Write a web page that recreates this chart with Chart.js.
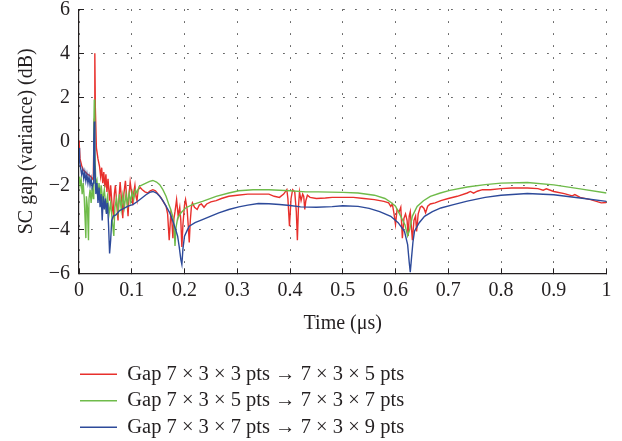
<!DOCTYPE html>
<html>
<head>
<meta charset="utf-8">
<script src="https://cdn.jsdelivr.net/npm/chart.js@4.4.0/dist/chart.umd.min.js"></script>
<style>
  body { margin: 0; background: #fff; }
  #container { width: 622px; height: 441px; }
</style>
</head>
<body>
<div id="container"><canvas id="myChart" width="622" height="441"></canvas></div>
<script>
// time axis (us) and SC gap values (dB)
var redTime = [0, 0.002, 0.005, 0.008, 0.012, 0.016, 0.02, 0.024, 0.027, 0.029, 0.030, 0.031, 0.033, 0.036, 0.039, 0.041, 0.043, 0.045, 0.047, 0.049, 0.051, 0.053, 0.055, 0.058, 0.060, 0.063, 0.065, 0.067, 0.069, 0.072, 0.074, 0.076, 0.078, 0.081, 0.083, 0.085, 0.088, 0.091, 0.093, 0.095, 0.097, 0.100, 0.102, 0.104, 0.106, 0.108, 0.110, 0.112, 0.116, 0.120, 0.125, 0.130, 0.135, 0.140, 0.145, 0.150, 0.155, 0.160, 0.165, 0.168, 0.171, 0.174, 0.176, 0.178, 0.180, 0.182, 0.185, 0.188, 0.191, 0.193, 0.195, 0.197, 0.200, 0.202, 0.205, 0.207, 0.209, 0.211, 0.213, 0.215, 0.219, 0.224, 0.228, 0.232, 0.237, 0.242, 0.250, 0.26, 0.27, 0.284, 0.30, 0.32, 0.34, 0.36, 0.37, 0.38, 0.388, 0.394, 0.396, 0.399, 0.402, 0.405, 0.409, 0.412, 0.414, 0.416, 0.418, 0.421, 0.424, 0.426, 0.428, 0.430, 0.433, 0.438, 0.45, 0.467, 0.48, 0.5, 0.52, 0.54, 0.56, 0.578, 0.587, 0.591, 0.594, 0.597, 0.600, 0.603, 0.607, 0.610, 0.613, 0.616, 0.619, 0.622, 0.624, 0.626, 0.628, 0.632, 0.635, 0.638, 0.640, 0.643, 0.647, 0.650, 0.654, 0.657, 0.661, 0.666, 0.675, 0.686, 0.7, 0.717, 0.736, 0.742, 0.748, 0.755, 0.765, 0.78, 0.8, 0.82, 0.85, 0.87, 0.88, 0.886, 0.9, 0.92, 0.935, 0.94, 0.95, 0.97, 0.99, 1.0];
var redGap = [0.05, -0.8, -1.1, -1.3, -1.4, -1.5, -1.55, -1.65, -1.75, 1.0, 4.0, 1.5, -0.3, -0.8, -1.15, -1.6, -1.2, -1.9, -1.4, -2.1, -1.5, -2.3, -1.7, -2.7, -2.0, -3.0, -3.3, -2.4, -2.0, -3.0, -3.6, -2.5, -1.85, -2.8, -3.5, -2.4, -1.8, -2.7, -3.4, -2.4, -1.85, -2.4, -2.9, -2.3, -2.0, -2.5, -2.7, -2.2, -2.1, -2.2, -2.3, -2.35, -2.25, -2.2, -2.25, -2.4, -2.55, -2.75, -2.95, -3.3, -4.5, -3.3, -3.6, -4.4, -3.5, -3.2, -2.65, -3.4, -3.0, -3.6, -4.8, -3.8, -2.9, -2.65, -3.1, -3.8, -4.6, -3.6, -3.0, -2.8, -3.0, -3.1, -2.9, -2.85, -3.0, -2.85, -2.75, -2.7, -2.6, -2.5, -2.45, -2.4, -2.4, -2.4, -2.5, -2.55, -2.4, -2.2, -2.6, -3.86, -2.6, -2.2, -2.3, -3.2, -4.5, -3.0, -2.3, -2.7, -2.4, -2.5, -3.1, -2.7, -2.45, -2.55, -2.6, -2.58, -2.55, -2.55, -2.55, -2.6, -2.65, -2.73, -2.8, -2.96, -2.85, -3.26, -3.78, -3.1, -3.2, -3.0, -4.4, -3.5, -3.3, -3.6, -4.3, -3.4, -3.2, -4.5, -3.6, -3.4, -4.1, -3.3, -3.0, -2.95, -3.05, -3.25, -2.95, -2.85, -2.8, -2.7, -2.6, -2.5, -2.35, -2.28, -2.36, -2.27, -2.2, -2.2, -2.15, -2.12, -2.12, -2.15, -2.22, -2.16, -2.28, -2.38, -2.48, -2.42, -2.55, -2.65, -2.8, -2.78];

var greenTime = [0, 0.002, 0.004, 0.006, 0.008, 0.010, 0.012, 0.013, 0.014, 0.016, 0.018, 0.019, 0.021, 0.023, 0.025, 0.027, 0.028, 0.029, 0.030, 0.032, 0.034, 0.036, 0.038, 0.040, 0.042, 0.045, 0.048, 0.051, 0.054, 0.057, 0.060, 0.063, 0.066, 0.068, 0.071, 0.074, 0.077, 0.080, 0.083, 0.086, 0.089, 0.092, 0.095, 0.098, 0.101, 0.104, 0.107, 0.110, 0.114, 0.12, 0.127, 0.134, 0.14, 0.147, 0.153, 0.159, 0.165, 0.170, 0.174, 0.178, 0.180, 0.182, 0.184, 0.187, 0.193, 0.202, 0.215, 0.234, 0.26, 0.284, 0.303, 0.33, 0.36, 0.40, 0.43, 0.454, 0.5, 0.529, 0.56, 0.58, 0.591, 0.60, 0.61, 0.618, 0.623, 0.627, 0.632, 0.641, 0.653, 0.666, 0.685, 0.703, 0.736, 0.77, 0.8, 0.85, 0.9, 0.95, 1.0];
var greenGap = [-1.6, -2.0, -1.7, -2.4, -1.9, -2.6, -3.8, -4.4, -2.5, -3.0, -4.5, -2.6, -2.2, -2.8, -2.1, -2.6, 0.5, 1.9, -0.5, -2.0, -1.8, -2.5, -1.9, -2.6, -2.0, -2.7, -2.2, -3.0, -2.5, -3.3, -2.8, -3.6, -4.3, -3.0, -2.6, -3.2, -2.4, -3.1, -2.45, -3.0, -2.4, -2.9, -2.35, -2.75, -2.3, -2.6, -2.2, -2.35, -2.05, -1.98, -1.9, -1.82, -1.78, -1.85, -1.97, -2.2, -2.5, -2.85, -3.1, -3.45, -3.8, -4.76, -3.9, -3.5, -3.26, -3.03, -2.88, -2.73, -2.5, -2.35, -2.25, -2.2, -2.2, -2.25, -2.3, -2.3, -2.32, -2.35, -2.45, -2.6, -2.77, -2.95, -3.41, -3.8, -4.3, -4.0, -3.4, -2.96, -2.7, -2.5, -2.35, -2.23, -2.08, -1.97, -1.9, -1.87, -1.98, -2.16, -2.35];

var blueTime = [0, 0.001, 0.003, 0.005, 0.007, 0.009, 0.011, 0.013, 0.015, 0.017, 0.019, 0.021, 0.023, 0.025, 0.027, 0.028, 0.029, 0.030, 0.032, 0.034, 0.036, 0.038, 0.040, 0.042, 0.044, 0.046, 0.048, 0.050, 0.052, 0.054, 0.056, 0.058, 0.060, 0.062, 0.065, 0.07, 0.077, 0.085, 0.093, 0.102, 0.11, 0.118, 0.127, 0.134, 0.14, 0.147, 0.153, 0.159, 0.165, 0.172, 0.178, 0.183, 0.187, 0.190, 0.193, 0.195, 0.197, 0.200, 0.205, 0.209, 0.22, 0.234, 0.25, 0.265, 0.284, 0.303, 0.32, 0.34, 0.36, 0.38, 0.40, 0.42, 0.45, 0.48, 0.50, 0.529, 0.55, 0.57, 0.591, 0.605, 0.617, 0.623, 0.626, 0.628, 0.630, 0.633, 0.636, 0.645, 0.655, 0.67, 0.686, 0.71, 0.736, 0.77, 0.8, 0.85, 0.9, 0.95, 1.0];
var blueGap = [-0.3, -0.9, -1.2, -1.5, -1.3, -1.7, -1.4, -1.8, -1.5, -1.9, -1.6, -2.0, -1.7, -2.1, -1.9, 0.0, 0.9, -1.0, -2.4, -1.9, -2.8, -2.1, -3.0, -2.4, -3.6, -2.5, -3.1, -2.6, -3.3, -2.8, -3.8, -5.1, -4.5, -3.6, -3.4, -3.35, -3.15, -3.05, -2.95, -2.88, -2.75, -2.6, -2.43, -2.32, -2.28, -2.35, -2.5, -2.7, -2.95, -3.25, -3.63, -4.0, -4.31, -4.8, -5.37, -5.6, -4.9, -4.31, -4.05, -3.86, -3.7, -3.56, -3.4, -3.25, -3.1, -2.98, -2.9, -2.83, -2.84, -2.87, -2.92, -2.98, -3.0, -2.97, -2.93, -2.96, -3.05, -3.2, -3.41, -3.7, -4.09, -4.7, -5.5, -5.95, -5.4, -4.6, -4.09, -3.7, -3.41, -3.2, -3.03, -2.88, -2.72, -2.55, -2.45, -2.37, -2.43, -2.58, -2.73];

var seriesNames = [
  "Gap 7 \u00d7 3 \u00d7 3 pts \u2192 7 \u00d7 3 \u00d7 5 pts",
  "Gap 7 \u00d7 3 \u00d7 5 pts \u2192 7 \u00d7 3 \u00d7 7 pts",
  "Gap 7 \u00d7 3 \u00d7 7 pts \u2192 7 \u00d7 3 \u00d7 9 pts"
];
var timeTicks = [0, 0.1, 0.2, 0.3, 0.4, 0.5, 0.6, 0.7, 0.8, 0.9, 1];
var gapTicks = [-6, -4, -2, 0, 2, 4, 6];

function toPoints(xs, ys) {
  return xs.map(function (x, i) { return { x: x, y: ys[i] }; });
}

var textColor = "#231f20";
var serif = "'Liberation Serif', 'DejaVu Serif', serif";

// put the legend where the figure has it
var legendShift = {
  id: "legendShift",
  afterLayout: function (chart) {
    var lg = chart.legend;
    var h = lg.bottom - lg.top;
    lg.left = 74;
    lg.top = 358;
    lg.bottom = lg.top + h;
  }
};

var ctx = document.getElementById("myChart").getContext("2d");
var myChart = new Chart(ctx, {
  type: "line",
  data: {
    datasets: [
      { label: seriesNames[0], data: toPoints(redTime, redGap), borderColor: "#e8302c", backgroundColor: "#e8302c", order: 2 },
      { label: seriesNames[1], data: toPoints(greenTime, greenGap), borderColor: "#6fbb4a", backgroundColor: "#6fbb4a", order: 1 },
      { label: seriesNames[2], data: toPoints(blueTime, blueGap), borderColor: "#2d4a9a", backgroundColor: "#2d4a9a", order: 0 }
    ]
  },
  options: {
    responsive: false,
    animation: false,
    layout: { padding: { top: 9.3, right: 12.5, bottom: 0, left: 0 } },
    elements: {
      point: { radius: 0 },
      line: { borderWidth: 1.4, tension: 0, fill: false }
    },
    plugins: {
      tooltip: { enabled: false },
      legend: {
        position: "bottom",
        align: "start",
        labels: {
          color: textColor,
          font: { family: serif, size: 20.5 },
          boxWidth: 37,
          boxHeight: 0,
          padding: 6,
          sort: function (a, b) { return a.datasetIndex - b.datasetIndex; }
        }
      }
    },
    scales: {
      x: {
        type: "linear",
        min: 0,
        max: 1,
        afterBuildTicks: function (axis) {
          axis.ticks = timeTicks.map(function (v) { return { value: v }; });
        },
        afterFit: function (axis) { axis.height = 78.2; },
        ticks: {
          color: textColor,
          font: { family: serif, size: 20 },
          padding: 10.5,
          maxRotation: 0,
          callback: function (v) { return (v === 0 || v === 1) ? String(v) : v.toFixed(1); }
        },
        grid: {
          color: "#444",
          lineWidth: 1,
          drawTicks: true,
          tickLength: -5,
          tickColor: textColor,
          tickWidth: 1,
          tickBorderDash: []
        },
        border: { display: true, color: textColor, width: 1.2, dash: [1.5, 10.5] },
        title: {
          display: true,
          text: "Time (\u03bcs)",
          color: textColor,
          font: { family: serif, size: 20 },
          padding: { top: 0, bottom: 16 }
        }
      },
      y: {
        min: -6,
        max: 6,
        afterBuildTicks: function (axis) {
          axis.ticks = gapTicks.map(function (v) { return { value: v }; });
        },
        afterFit: function (axis) {
          axis.width = 79;
          axis.paddingTop = 0;
          axis.paddingBottom = 0;
        },
        ticks: {
          color: textColor,
          font: { family: serif, size: 20 },
          padding: 14,
          callback: function (v) { return String(v).replace("-", "\u2212"); }
        },
        grid: {
          color: "#444",
          lineWidth: 1,
          drawTicks: true,
          tickLength: -5,
          tickColor: textColor,
          tickWidth: 1,
          tickBorderDash: []
        },
        border: { display: true, color: textColor, width: 1.2, dash: [1.5, 10.5] },
        title: {
          display: true,
          text: "SC gap (variance) (dB)",
          color: textColor,
          font: { family: serif, size: 20 },
          padding: { top: 14.7, bottom: 0 }
        }
      }
    }
  },
  plugins: [legendShift]
});
</script>
</body>
</html>
